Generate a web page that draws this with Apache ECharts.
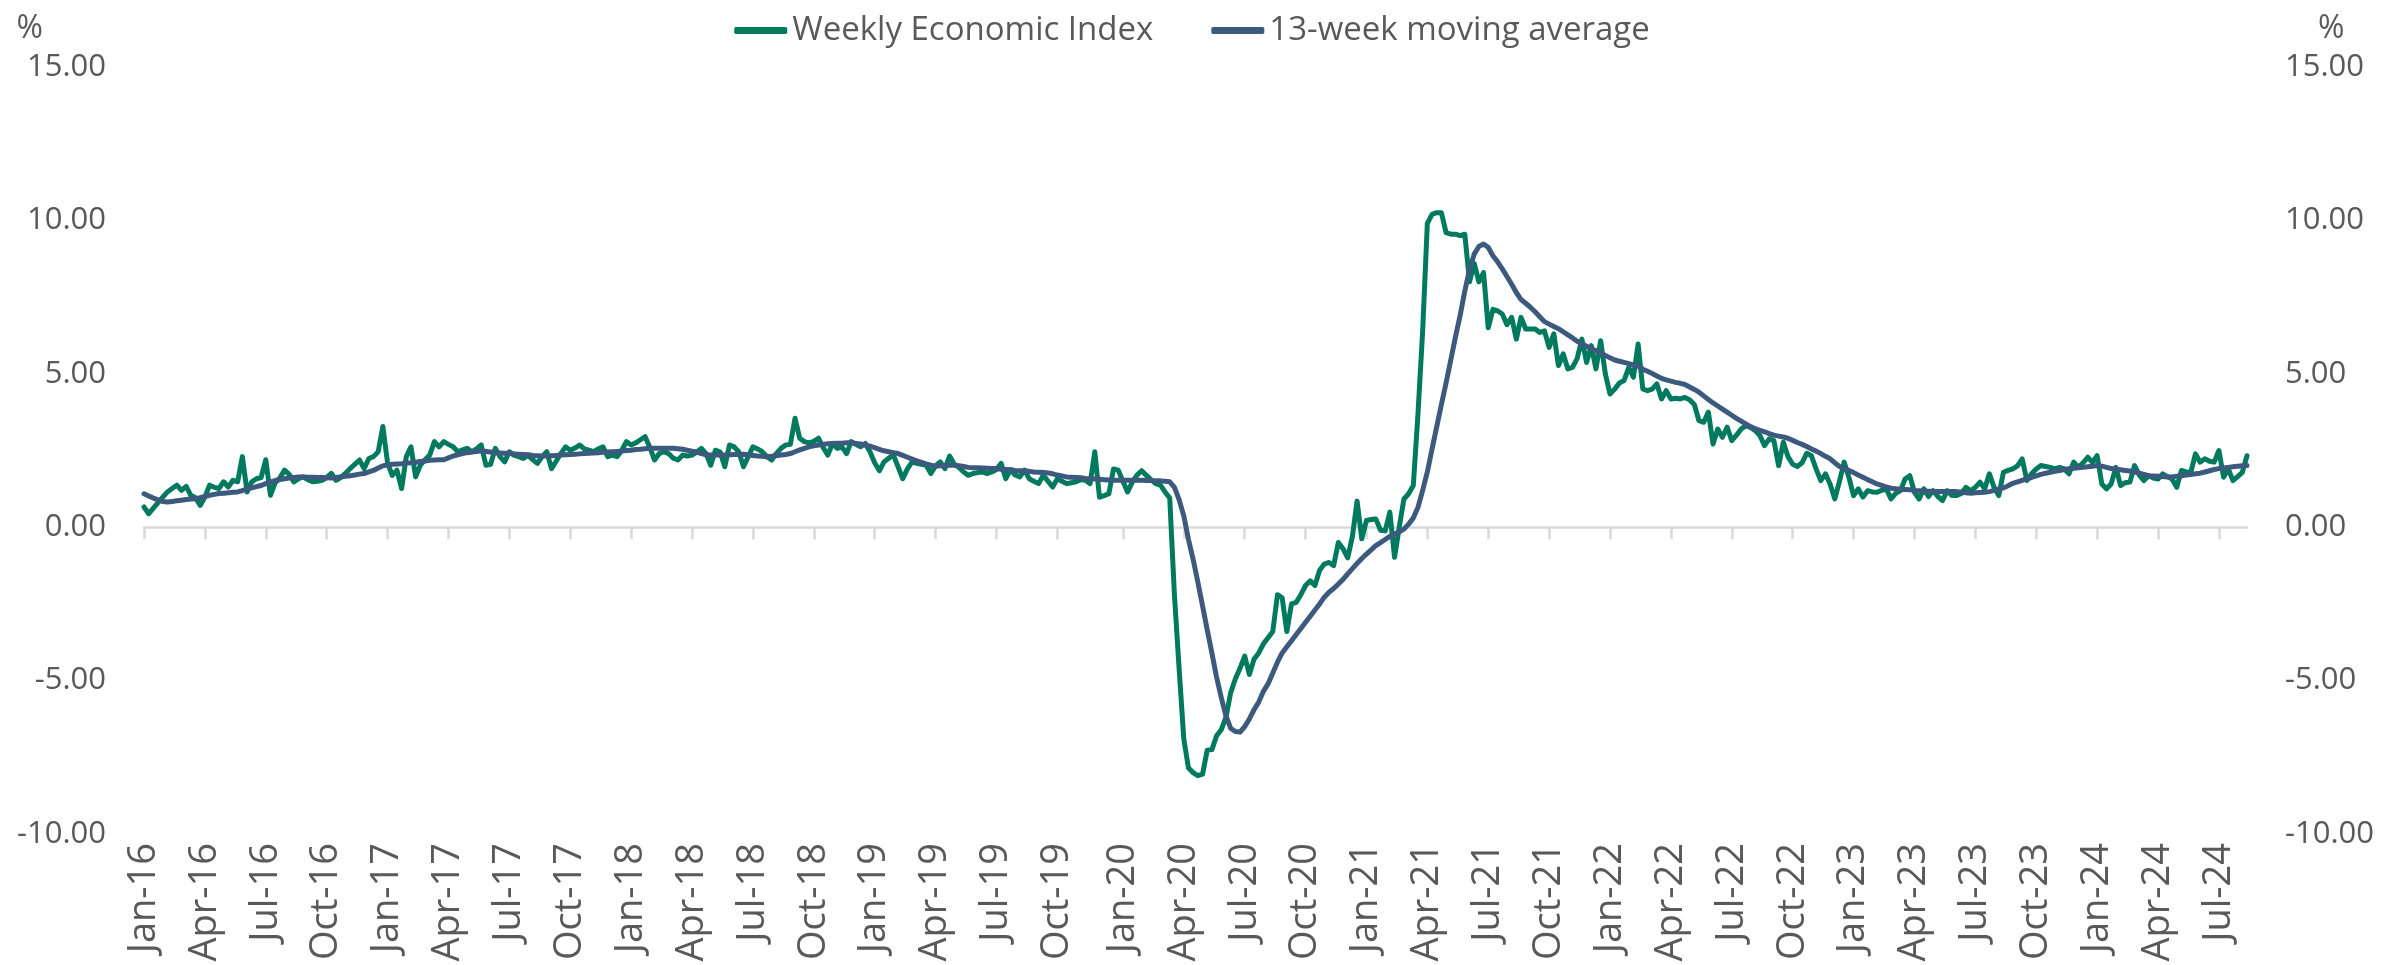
<!DOCTYPE html>
<html>
<head>
<meta charset="utf-8">
<title>Weekly Economic Index</title>
<script src="https://cdn.jsdelivr.net/npm/echarts@6/dist/echarts.min.js"></script>
<style>
  html, body { margin: 0; padding: 0; background: #ffffff; }
  #chart { width: 2384px; height: 965px; }
</style>
</head>
<body>
<div id="chart"></div>
<script>
// weekly observations, first one on Saturday 2016-01-02
const firstWeek = "2016-01-02";
const seriesNames = ["Weekly Economic Index", "13-week moving average"];
const monthNames = ["Jan", "Feb", "Mar", "Apr", "May", "Jun", "Jul", "Aug", "Sep", "Oct", "Nov", "Dec"];
const yTicks = { min: -10, max: 15, step: 5 };

// Weekly Economic Index (%), one value per week
const wei = [
  0.66, 0.44, 0.62, 0.80, 0.98, 1.15, 1.26, 1.37, 1.20, 1.33,
  1.04, 0.96, 0.71, 0.98, 1.37, 1.30, 1.26, 1.48, 1.31, 1.53,
  1.48, 2.30, 1.15, 1.48, 1.58, 1.62, 2.20, 1.04, 1.45, 1.60,
  1.86, 1.72, 1.48, 1.58, 1.64, 1.55, 1.48, 1.50, 1.53, 1.62,
  1.75, 1.53, 1.62, 1.75, 1.91, 2.05, 2.19, 1.91, 2.24, 2.30,
  2.46, 3.28, 2.10, 1.69, 1.86, 1.26, 2.30, 2.62, 1.64, 2.02,
  2.20, 2.35, 2.79, 2.62, 2.79, 2.70, 2.62, 2.46, 2.52, 2.57,
  2.46, 2.55, 2.68, 2.02, 2.05, 2.57, 2.30, 2.13, 2.46, 2.35,
  2.30, 2.24, 2.35, 2.20, 2.08, 2.30, 2.46, 1.91, 2.15, 2.40,
  2.62, 2.51, 2.58, 2.68, 2.55, 2.51, 2.46, 2.55, 2.62, 2.30,
  2.35, 2.30, 2.50, 2.79, 2.68, 2.75, 2.85, 2.95, 2.60, 2.19,
  2.40, 2.46, 2.40, 2.25, 2.19, 2.35, 2.32, 2.35, 2.45, 2.57,
  2.40, 2.02, 2.51, 2.45, 1.97, 2.68, 2.62, 2.45, 1.97, 2.30,
  2.62, 2.55, 2.46, 2.30, 2.19, 2.40, 2.57, 2.68, 2.70, 3.55,
  2.90, 2.79, 2.75, 2.80, 2.90, 2.60, 2.35, 2.73, 2.57, 2.62,
  2.40, 2.79, 2.70, 2.62, 2.73, 2.46, 2.10, 1.84, 2.13, 2.25,
  2.35, 1.97, 1.58, 1.90, 2.13, 2.08, 2.05, 2.02, 1.75, 2.00,
  2.13, 1.91, 2.32, 2.05, 1.95, 1.80, 1.69, 1.75, 1.78, 1.80,
  1.75, 1.80, 1.88, 2.08, 1.58, 1.88, 1.70, 1.64, 1.86, 1.58,
  1.50, 1.42, 1.69, 1.50, 1.31, 1.58, 1.50, 1.42, 1.45, 1.48,
  1.55, 1.53, 1.42, 2.46, 0.98, 1.03, 1.09, 1.90, 1.86, 1.50,
  1.15, 1.47, 1.70, 1.84, 1.69, 1.55, 1.42, 1.37, 1.15, 0.95,
  -2.20, -4.60, -6.90, -7.85, -8.00, -8.10, -8.05, -7.27, -7.25, -6.80,
  -6.60, -6.20, -5.40, -4.95, -4.60, -4.20, -4.80, -4.30, -4.10, -3.80,
  -3.60, -3.40, -2.20, -2.30, -3.40, -2.50, -2.45, -2.20, -1.90, -1.75,
  -1.90, -1.40, -1.20, -1.15, -1.25, -0.50, -0.70, -1.00, -0.30, 0.85,
  -0.38, 0.22, 0.25, 0.27, -0.10, -0.12, 0.49, -0.98, 0.00, 0.92,
  1.09, 1.36, 3.69, 6.40, 9.90, 10.20, 10.25, 10.25, 9.60, 9.55,
  9.55, 9.50, 9.55, 8.00, 8.60, 8.00, 8.30, 6.50, 7.10, 7.05,
  6.95, 6.60, 6.84, 6.13, 6.84, 6.46, 6.46, 6.46, 6.35, 6.40,
  5.86, 6.30, 5.27, 5.65, 5.16, 5.21, 5.50, 6.13, 5.37, 5.92,
  5.16, 6.08, 5.00, 4.34, 4.50, 4.70, 4.78, 5.21, 4.89, 5.97,
  4.51, 4.45, 4.50, 4.67, 4.18, 4.45, 4.18, 4.20, 4.18, 4.23,
  4.15, 4.00, 3.47, 3.42, 3.75, 2.71, 3.20, 2.93, 3.26, 2.82,
  3.00, 3.20, 3.31, 3.25, 3.15, 2.99, 2.66, 2.88, 2.82, 2.00,
  2.77, 2.30, 2.05, 1.98, 2.10, 2.41, 2.33, 1.90, 1.52, 1.74,
  1.40, 0.92, 1.50, 2.12, 1.63, 1.03, 1.25, 0.98, 1.19, 1.15,
  1.14, 1.20, 1.25, 0.92, 1.10, 1.19, 1.57, 1.68, 1.14, 0.92,
  1.25, 1.00, 1.19, 1.00, 0.87, 1.19, 1.03, 1.03, 1.10, 1.30,
  1.19, 1.30, 1.47, 1.25, 1.74, 1.30, 1.03, 1.79, 1.85, 1.90,
  2.00, 2.23, 1.52, 1.74, 1.90, 2.01, 1.98, 1.95, 1.90, 1.95,
  1.90, 1.74, 2.12, 1.95, 2.10, 2.28, 2.12, 2.33, 1.41, 1.25,
  1.41, 1.95, 1.36, 1.45, 1.47, 2.01, 1.70, 1.52, 1.68, 1.60,
  1.57, 1.74, 1.65, 1.57, 1.30, 1.85, 1.80, 1.79, 2.39, 2.12,
  2.23, 2.15, 2.12, 2.50, 1.63, 1.90, 1.52, 1.65, 1.79, 2.33
];

// 13-week moving average (%)
const ma13 = [
  1.09, 1.02, 0.95, 0.89, 0.84, 0.82, 0.84, 0.86, 0.88, 0.90,
  0.92, 0.93, 0.96, 1.00, 1.04, 1.07, 1.10, 1.11, 1.12, 1.14,
  1.15, 1.19, 1.24, 1.28, 1.32, 1.36, 1.42, 1.48, 1.52, 1.55,
  1.58, 1.60, 1.62, 1.64, 1.64, 1.63, 1.63, 1.62, 1.62, 1.61,
  1.60, 1.62, 1.64, 1.66, 1.68, 1.70, 1.73, 1.75, 1.80, 1.85,
  1.93, 2.00, 2.03, 2.05, 2.06, 2.07, 2.09, 2.10, 2.12, 2.14,
  2.16, 2.18, 2.19, 2.20, 2.20, 2.26, 2.32, 2.36, 2.40, 2.43,
  2.45, 2.47, 2.49, 2.47, 2.45, 2.43, 2.42, 2.41, 2.40, 2.39,
  2.38, 2.37, 2.36, 2.34, 2.33, 2.32, 2.32, 2.33, 2.34, 2.35,
  2.36, 2.37, 2.38, 2.39, 2.40, 2.41, 2.42, 2.43, 2.44, 2.45,
  2.46, 2.47, 2.48, 2.50, 2.51, 2.53, 2.54, 2.56, 2.57, 2.57,
  2.57, 2.57, 2.57, 2.57, 2.56, 2.54, 2.51, 2.48, 2.45, 2.40,
  2.36, 2.35, 2.35, 2.35, 2.35, 2.36, 2.37, 2.37, 2.38, 2.36,
  2.34, 2.32, 2.31, 2.30, 2.31, 2.33, 2.35, 2.37, 2.40, 2.46,
  2.52, 2.57, 2.62, 2.65, 2.68, 2.70, 2.72, 2.73, 2.74, 2.74,
  2.75, 2.75, 2.73, 2.71, 2.68, 2.64, 2.59, 2.54, 2.49, 2.46,
  2.43, 2.40, 2.34, 2.28, 2.22, 2.16, 2.11, 2.06, 2.02, 1.99,
  2.00, 2.01, 2.02, 2.02, 2.00, 1.98, 1.95, 1.94, 1.94, 1.93,
  1.92, 1.91, 1.91, 1.89, 1.88, 1.87, 1.85, 1.84, 1.83, 1.82,
  1.80, 1.79, 1.78, 1.77, 1.74, 1.70, 1.67, 1.64, 1.63, 1.62,
  1.61, 1.59, 1.58, 1.57, 1.56, 1.55, 1.54, 1.53, 1.53, 1.53,
  1.53, 1.53, 1.53, 1.53, 1.52, 1.52, 1.51, 1.51, 1.50, 1.48,
  1.30, 0.90, 0.37, -0.40, -1.05, -1.79, -2.56, -3.34, -4.10, -4.89,
  -5.55, -6.15, -6.55, -6.66, -6.68, -6.50, -6.25, -5.95, -5.70, -5.35,
  -5.10, -4.75, -4.40, -4.10, -3.90, -3.70, -3.50, -3.30, -3.10, -2.90,
  -2.70, -2.50, -2.28, -2.12, -2.00, -1.85, -1.70, -1.52, -1.35, -1.18,
  -1.02, -0.88, -0.74, -0.60, -0.50, -0.40, -0.30, -0.22, -0.15, -0.06,
  0.10, 0.30, 0.65, 1.20, 1.80, 2.55, 3.27, 4.00, 4.70, 5.45,
  6.20, 6.90, 7.70, 8.40, 8.90, 9.15, 9.23, 9.12, 8.85, 8.65,
  8.42, 8.17, 7.92, 7.65, 7.42, 7.30, 7.17, 7.02, 6.86, 6.70,
  6.62, 6.54, 6.47, 6.37, 6.27, 6.17, 6.06, 5.98, 5.90, 5.82,
  5.75, 5.68, 5.60, 5.52, 5.45, 5.41, 5.37, 5.33, 5.29, 5.25,
  5.15, 5.08, 5.01, 4.93, 4.85, 4.80, 4.76, 4.72, 4.69, 4.65,
  4.57, 4.49, 4.40, 4.28, 4.16, 4.05, 3.95, 3.85, 3.75, 3.65,
  3.55, 3.46, 3.37, 3.28, 3.21, 3.16, 3.11, 3.05, 3.00, 2.97,
  2.94, 2.90, 2.83, 2.76, 2.70, 2.63, 2.55, 2.48, 2.40, 2.31,
  2.23, 2.10, 1.98, 1.92, 1.85, 1.78, 1.70, 1.63, 1.55, 1.48,
  1.41, 1.36, 1.31, 1.27, 1.25, 1.24, 1.23, 1.22, 1.20, 1.19,
  1.18, 1.17, 1.16, 1.16, 1.16, 1.16, 1.16, 1.16, 1.14, 1.12,
  1.11, 1.12, 1.13, 1.14, 1.16, 1.20, 1.24, 1.28, 1.35, 1.43,
  1.48, 1.53, 1.58, 1.62, 1.67, 1.72, 1.76, 1.79, 1.82, 1.85,
  1.88, 1.91, 1.92, 1.94, 1.95, 1.97, 1.99, 2.01, 1.99, 1.95,
  1.91, 1.89, 1.87, 1.85, 1.83, 1.80, 1.76, 1.72, 1.68, 1.67,
  1.66, 1.65, 1.64, 1.64, 1.66, 1.68, 1.70, 1.72, 1.74, 1.76,
  1.80, 1.84, 1.88, 1.91, 1.93, 1.95, 1.97, 1.99, 2.00, 2.01
];

const colors = { wei: "#007a5e", ma: "#3c5a7d", text: "#595959", axis: "#d9d9d9" };
const DAY = 86400000;

// category labels: one date string per week
const weeks = wei.map((_v, i) =>
  new Date(Date.parse(firstWeek) + i * 7 * DAY).toISOString().slice(0, 10)
);

// which quarter start (1 Jan/Apr/Jul/Oct) falls inside this week, if any
function quarterStartIn(dateStr) {
  const t = Date.parse(dateStr);
  for (let k = -3; k <= 3; k++) {
    const d = new Date(t + k * DAY);
    if (d.getUTCDate() === 1 && d.getUTCMonth() % 3 === 0) return d;
  }
  return null;
}
const isQuarterTick = (_index, value) => quarterStartIn(value) !== null;
function quarterLabel(value) {
  const d = quarterStartIn(value);
  if (!d) return "";
  return monthNames[d.getUTCMonth()] + "-" + String(d.getUTCFullYear()).slice(2);
}

const chart = echarts.init(document.getElementById("chart"), null, { renderer: "canvas" });

const valueAxis = (side) => ({
  type: "value",
  position: side,
  min: yTicks.min,
  max: yTicks.max,
  interval: yTicks.step,
  name: "%",
  nameLocation: "end",
  nameGap: 22,
  nameTextStyle: side === "left"
    ? { color: colors.text, fontSize: 32, align: "right", padding: [0, 101, 0, 0] }
    : { color: colors.text, fontSize: 32, align: "left", padding: [0, 0, 0, 71] },
  axisLine: { show: false },
  axisTick: { show: false },
  splitLine: { show: false },
  axisLabel: {
    color: colors.text,
    fontSize: 31,
    margin: 38,
    formatter: (v) => v.toFixed(2),
  },
});

chart.setOption({
  animation: false,
  backgroundColor: "#ffffff",
  textStyle: { fontFamily: "Open Sans" },
  grid: { left: 144, right: 137, top: 67, bottom: 131 },
  legend: {
    data: seriesNames,
    top: 9,
    left: "center",
    icon: "roundRect",
    itemWidth: 53,
    itemHeight: 7,
    itemGap: 58,
    textStyle: { color: colors.text, fontSize: 33 },
  },
  xAxis: [
    {
      // the line through zero, with quarterly ticks
      type: "category",
      data: weeks,
      boundaryGap: false,
      position: "bottom",
      axisLine: { onZero: true, lineStyle: { color: colors.axis, width: 2.5 } },
      axisTick: { interval: isQuarterTick, length: 12, lineStyle: { color: colors.axis, width: 2.5 } },
      axisLabel: { show: false },
      splitLine: { show: false },
    },
    {
      // labels sit low, under the -10 line
      type: "category",
      data: weeks,
      boundaryGap: false,
      position: "bottom",
      axisLine: { show: false, onZero: false },
      axisTick: { show: false },
      splitLine: { show: false },
      axisLabel: {
        interval: isQuarterTick,
        formatter: quarterLabel,
        rotate: 90,
        margin: 9,
        color: colors.text,
        fontSize: 38,
      },
    },
  ],
  yAxis: [valueAxis("left"), valueAxis("right")],
  series: [
    {
      name: seriesNames[0],
      type: "line",
      data: wei,
      xAxisIndex: 0,
      yAxisIndex: 0,
      showSymbol: false,
      lineStyle: { color: colors.wei, width: 5, join: "round", cap: "round" },
      itemStyle: { color: colors.wei },
    },
    {
      name: seriesNames[1],
      type: "line",
      data: ma13,
      xAxisIndex: 0,
      yAxisIndex: 0,
      showSymbol: false,
      lineStyle: { color: colors.ma, width: 5, join: "round", cap: "round" },
      itemStyle: { color: colors.ma },
    },
  ],
});
</script>
</body>
</html>
